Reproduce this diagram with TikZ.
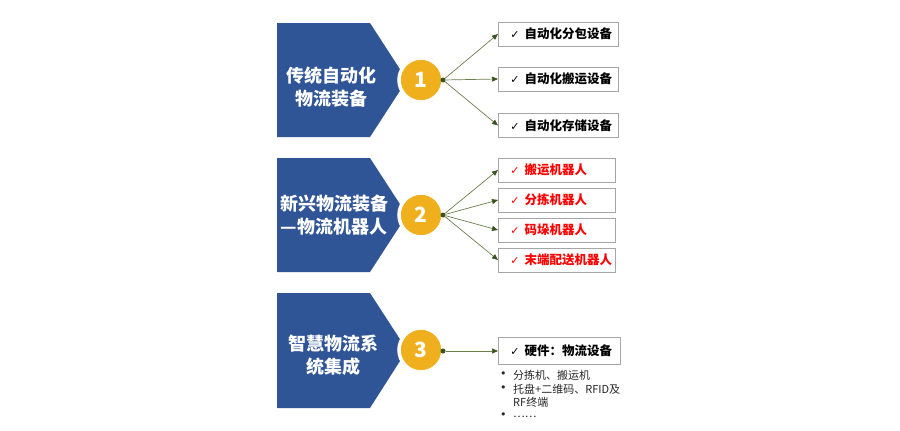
\documentclass[tikz,border=0pt]{standalone}
\usepackage{fontspec}
\setmainfont{Noto Sans CJK SC}
\newfontfamily\symfont{DejaVu Sans}
\usepackage{xcolor}
\usetikzlibrary{arrows.meta, positioning}

\definecolor{penblue}{HTML}{2F5597}
\definecolor{gold}{HTML}{F0B01E}
\definecolor{linegreen}{HTML}{6B7F4A}
\definecolor{tipgreen}{HTML}{3B5320}
\definecolor{boxgray}{HTML}{A6A6A6}

\tikzset{
	pen/.style={fill=penblue},
	pentext/.style={text=white, font=\bfseries\fontsize{18}{23}\selectfont, align=center},
	num/.style={circle, fill=gold, draw=white, line width=3.5pt, minimum size=44pt, inner sep=0pt,
		text=white, font=\bfseries\fontsize{21}{21}\selectfont},
	hub/.style={circle, fill=tipgreen, inner sep=0pt, minimum size=5pt},
	item/.style={draw=boxgray, line width=0.8pt, minimum height=24pt, inner sep=0pt,
		anchor=west, align=left, text width=120pt, font=\bfseries\fontsize{12.5}{14}\selectfont},
	robot/.style={item, text=red, text width=117pt},
	arr/.style={draw=linegreen, line width=0.7pt, -{Triangle[length=6pt,width=5pt,color=tipgreen]}},
	note/.style={anchor=west, inner sep=0pt, font=\fontsize{11}{13}\selectfont, text=black!85}
}
\newcommand{\ok}{\hspace*{12pt}{\symfont\bfseries\fontsize{11}{13}\selectfont ✓}\hspace{5pt}}

\begin{document}
\begin{tikzpicture}[x=1pt, y=-1pt]
	\useasboundingbox (0,0) rectangle (900,431);
	% section 1
	\fill[pen] (277,23) -- (370,23) -- (407,80) -- (370,137) -- (277,137) -- cycle;
	\node[pentext] (t1) at (331,87) {传统自动化\\物流装备};
	\node[num] (c1) at (421,80) {1};
	\node[hub] (d1) at (443,80) {};
	\node[item] (b11) at (498,34) {\ok 自动化分包设备};
	\node[item] (b12) at (498,79) {\ok 自动化搬运设备};
	\node[item] (b13) at (498,125.5) {\ok 自动化存储设备};
	\draw[arr] (d1) -- (b11.west);
	\draw[arr] (d1) -- (b12.west);
	\draw[arr] (d1) -- (b13.west);
	% section 2
	\fill[pen] (277,158) -- (370,158) -- (407,215) -- (370,272) -- (277,272) -- cycle;
	\node[pentext] (t2) at (334,215) {新兴物流装备\\—物流机器人};
	\node[num] (c2) at (421,215) {2};
	\node[hub] (d2) at (443,215) {};
	\node[robot] (b21) at (498,170) {\ok 搬运机器人};
	\node[robot] (b22) at (498,200) {\ok 分拣机器人};
	\node[robot] (b23) at (498,230) {\ok 码垛机器人};
	\node[robot] (b24) at (498,260) {\ok 末端配送机器人};
	\draw[arr] (d2) -- (b21.west);
	\draw[arr] (d2) -- (b22.west);
	\draw[arr] (d2) -- (b23.west);
	\draw[arr] (d2) -- (b24.west);
	% section 3
	\fill[pen] (277,293) -- (370,293) -- (407,350) -- (370,408) -- (277,408) -- cycle;
	\node[pentext] (t3) at (333,355) {智慧物流系\\统集成};
	\node[num] (c3) at (421,350) {3};
	\node[hub] (d3) at (443,351) {};
	\node[item, text width=122pt, minimum height=27pt] (b31) at (498,351) {\ok 硬件：物流设备};
	\draw[arr] (d3) -- (b31.west);
	\node[note] (p1) at (500,375) {\symfont •};
	\node[note] (n1) at (513,375) {分拣机、搬运机};
	\node[note] (p2) at (500,389) {\symfont •};
	\node[note] (n2) at (513,389) {托盘+二维码、RFID及};
	\node[note] (n3) at (513,402) {RF终端};
	\node[note] (p3) at (500,416) {\symfont •};
	\node[note] (n4) at (513,417) {……};
\end{tikzpicture}
\end{document}
